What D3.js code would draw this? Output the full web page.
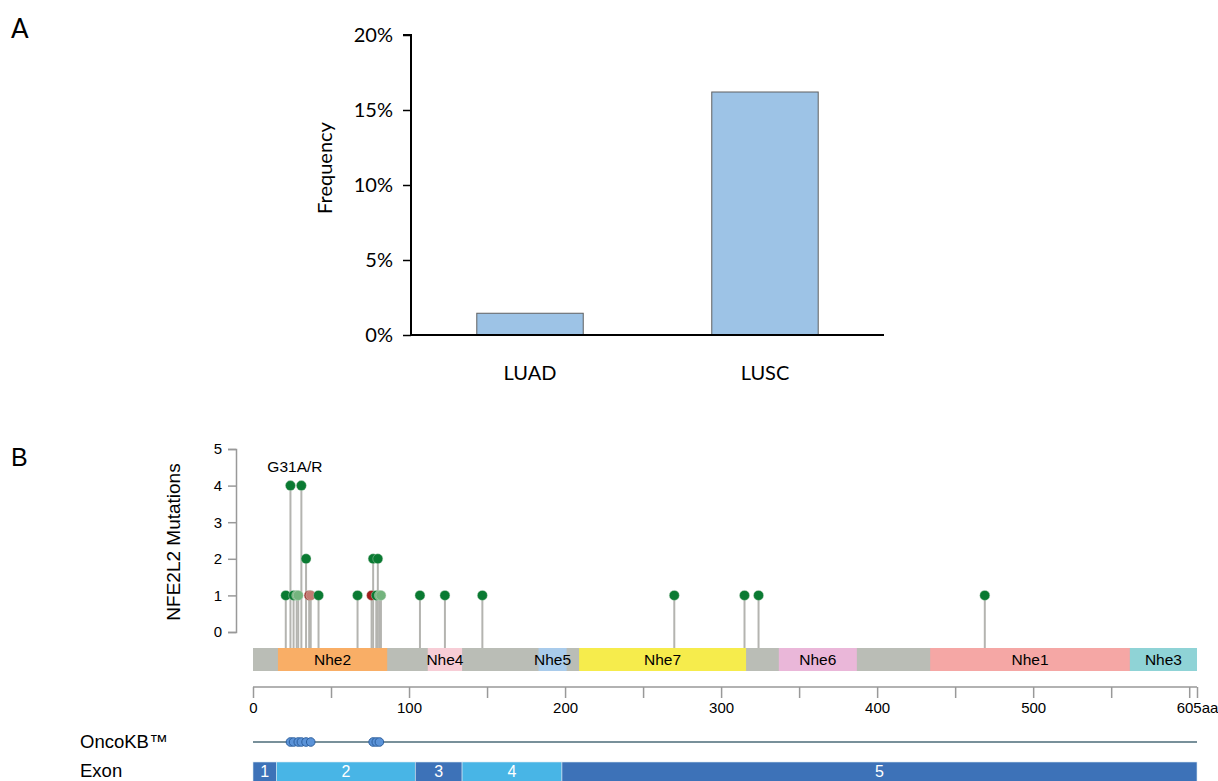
<!DOCTYPE html>
<html>
<head>
<meta charset="utf-8">
<script src="https://cdn.jsdelivr.net/npm/d3@7"></script>
<style>
  body { margin: 0; background: #fff; }
  svg { display: block; }
</style>
</head>
<body>
<div id="chart"></div>
<script>
// Panel A - frecuencia por tipo de tumor
const cohorts = ['LUAD', 'LUSC'];
const frequency = [1.45, 16.2];
const freqTicks = [0, 5, 10, 15, 20];

// Panel B - lollipop NFE2L2
const protLength = 605;
const mutPos   = [21, 24, 26, 28, 29, 31, 34, 36, 37, 42, 67, 76, 77, 79, 80, 81, 82, 107, 123, 147, 270, 315, 324, 469];
const mutCount = [ 1,  4,  1,  1,  1,  4,  2,  1,  1,  1,  1,  1,  2,  1,  2,  1,  1,   1,   1,   1,   1,   1,   1,   1];
const mutType  = ['M','M','M','Mf','Mf','M','M','I','If','M','M','I','M','M','M','Mf','Mf','M','M','M','M','M','M','M'];
const countTicks = [0, 1, 2, 3, 4, 5];

const domainNames = ['Nhe2', 'Nhe4', 'Nhe5', 'Nhe7', 'Nhe6', 'Nhe1', 'Nhe3'];
const domainStart = [16, 112, 183, 209, 337, 434, 562];
const domainEnd   = [86, 134, 201, 316, 387, 562, 605];

const posTicks = [0, 50, 100, 150, 200, 250, 300, 350, 400, 450, 500, 550, 600, 605];
const posLabels = [0, 100, 200, 300, 400, 500, 605];

const oncokbPos = [24, 26, 29, 31, 34, 37, 77, 79, 81];

const exonNames = ['1', '2', '3', '4', '5'];
const exonStart = [0, 15, 104, 134, 198];
const exonEnd   = [15, 104, 134, 198, 605];

const W = 1218, H = 781;
const svg = d3.select('#chart').append('svg').attr('width', W).attr('height', H);

const fontA = 'Lato, "Open Sans", sans-serif';
const fontB = '"Liberation Sans", Arial, Helvetica, sans-serif';

/* ---------- Panel A ---------- */
svg.append('text').attr('x', 11).attr('y', 38).style('font-family', fontA).style('font-size', '26px').text('A');

const xA = d3.scaleBand().domain(cohorts).range([411, 884]).paddingInner(0.547).paddingOuter(0.28);
const yA = d3.scaleLinear().domain([0, 20]).range([335, 35]);

svg.selectAll('rect.barA')
  .data(cohorts)
  .enter().append('rect')
  .attr('class', 'barA')
  .attr('x', d => xA(d))
  .attr('width', xA.bandwidth())
  .attr('y', (d, i) => yA(frequency[i]))
  .attr('height', (d, i) => yA(0) - yA(frequency[i]))
  .attr('fill', '#9dc3e6')
  .attr('stroke', '#606060')
  .attr('stroke-width', 1);

const gyA = svg.append('g').attr('transform', 'translate(411,0)')
  .call(d3.axisLeft(yA).tickValues(freqTicks).tickFormat(d => d + '%').tickSize(8).tickPadding(10));
gyA.select('.domain').attr('stroke', '#000').attr('stroke-width', 2).attr('d', 'M-8,35H0V335');
gyA.selectAll('.tick line').attr('stroke', '#000').attr('stroke-width', 1.5);
gyA.selectAll('.tick text').style('font-family', fontA).style('font-size', '20px').attr('fill', '#000');

svg.append('line').attr('x1', 411).attr('x2', 884).attr('y1', yA(0)).attr('y2', yA(0))
  .attr('stroke', '#000').attr('stroke-width', 2);

svg.selectAll('text.catA')
  .data(cohorts)
  .enter().append('text')
  .attr('class', 'catA')
  .attr('x', d => xA(d) + xA.bandwidth() / 2)
  .attr('y', 380)
  .attr('text-anchor', 'middle')
  .style('font-family', fontA).style('font-size', '20px')
  .text(d => d);

svg.append('text')
  .attr('transform', 'translate(332,168) rotate(-90)')
  .attr('text-anchor', 'middle')
  .style('font-family', fontA).style('font-size', '20px')
  .text('Frequency');

/* ---------- Panel B ---------- */
svg.append('text').attr('x', 11).attr('y', 466).style('font-family', fontB).style('font-size', '25px').text('B');

const xB = d3.scaleLinear().domain([0, protLength]).range([253, 1197]);
const yB = d3.scaleLinear().domain([0, 5]).range([632, 449]);
const barTop = 648, barH = 23;

const gyB = svg.append('g').attr('transform', 'translate(236,0)')
  .call(d3.axisLeft(yB).tickValues(countTicks).tickFormat(d3.format('d')).tickSize(8).tickPadding(6));
gyB.select('.domain').attr('stroke', '#999').attr('stroke-width', 1.5);
gyB.selectAll('.tick line').attr('stroke', '#999').attr('stroke-width', 1.5);
gyB.selectAll('.tick text').style('font-family', fontB).style('font-size', '15px').attr('fill', '#000');

svg.append('text')
  .attr('transform', 'translate(180,542) rotate(-90)')
  .attr('text-anchor', 'middle')
  .style('font-family', fontB).style('font-size', '19px')
  .text('NFE2L2 Mutations');

// tallos
svg.selectAll('line.stem')
  .data(mutPos)
  .enter().append('line')
  .attr('class', 'stem')
  .attr('x1', d => xB(d)).attr('x2', d => xB(d))
  .attr('y1', barTop)
  .attr('y2', (d, i) => yB(mutCount[i]))
  .attr('stroke', '#b4b4b0')
  .attr('stroke-width', 2);

// barra de proteína
svg.append('rect')
  .attr('x', xB(0)).attr('width', xB(protLength) - xB(0))
  .attr('y', barTop).attr('height', barH)
  .attr('fill', '#babdb6');

const domColor = d3.scaleOrdinal()
  .domain(domainNames)
  .range(['#f9ae66', '#f7cdd6', '#a9cbeb', '#f6ec4c', '#eab7d9', '#f5a7a5', '#8fd3d6']);

svg.selectAll('rect.dom')
  .data(domainNames)
  .enter().append('rect')
  .attr('class', 'dom')
  .attr('x', (d, i) => xB(domainStart[i]))
  .attr('width', (d, i) => xB(domainEnd[i]) - xB(domainStart[i]))
  .attr('y', barTop).attr('height', barH)
  .attr('fill', d => domColor(d));

svg.selectAll('text.dom')
  .data(domainNames)
  .enter().append('text')
  .attr('class', 'dom')
  .attr('x', (d, i) => (xB(domainStart[i]) + xB(domainEnd[i])) / 2)
  .attr('y', barTop + 17)
  .attr('text-anchor', 'middle')
  .style('font-family', fontB).style('font-size', '15.5px')
  .text(d => d);

// cabezas
const mutColor = d3.scaleOrdinal()
  .domain(['M', 'Mf', 'I', 'If'])
  .range(['#0a7a32', '#74b47e', '#a01d1d', '#c47a72']);

svg.selectAll('circle.head')
  .data(mutPos)
  .enter().append('circle')
  .attr('class', 'head')
  .attr('cx', d => xB(d))
  .attr('cy', (d, i) => yB(mutCount[i]))
  .attr('r', 5)
  .attr('fill', (d, i) => mutColor(mutType[i]))
  .attr('stroke', '#c9d9c9')
  .attr('stroke-width', 0.4);

svg.append('text')
  .attr('x', (xB(24) + xB(31)) / 2 - 1)
  .attr('y', 472)
  .attr('text-anchor', 'middle')
  .style('font-family', fontB).style('font-size', '15.5px')
  .text('G31A/R');

// eje de posiciones
const gxB = svg.append('g').attr('transform', 'translate(0,687)')
  .call(d3.axisBottom(xB).tickValues(posTicks).tickSize(11).tickPadding(4)
    .tickFormat(d => posLabels.includes(d) ? (d === protLength ? d + 'aa' : d) : ''));
gxB.select('.domain').attr('stroke', '#999').attr('stroke-width', 1.5).attr('d', `M${xB(0)},0H${xB(protLength)}`);
gxB.selectAll('.tick line').attr('stroke', '#999').attr('stroke-width', 1.5);
gxB.selectAll('.tick text').style('font-family', fontB).style('font-size', '15px').attr('fill', '#000');

// OncoKB
svg.append('text').attr('x', 80).attr('y', 748).style('font-family', fontB).style('font-size', '18.5px').text('OncoKB™');
svg.append('line').attr('x1', xB(0)).attr('x2', xB(protLength)).attr('y1', 742).attr('y2', 742)
  .attr('stroke', '#4b6b78').attr('stroke-width', 1.5);
svg.selectAll('circle.okb')
  .data(oncokbPos)
  .enter().append('circle')
  .attr('class', 'okb')
  .attr('cx', d => xB(d)).attr('cy', 742).attr('r', 4.3)
  .attr('fill', '#5b93d8')
  .attr('stroke', '#2c5f9e')
  .attr('stroke-width', 1);

// Exones
svg.append('text').attr('x', 80).attr('y', 777).style('font-family', fontB).style('font-size', '18.5px').text('Exon');
const exonColor = ['#3d72b8', '#48b5e6', '#3d72b8', '#48b5e6', '#3d72b8'];
svg.selectAll('rect.exon')
  .data(exonNames)
  .enter().append('rect')
  .attr('class', 'exon')
  .attr('x', (d, i) => xB(exonStart[i]))
  .attr('width', (d, i) => xB(exonEnd[i]) - xB(exonStart[i]))
  .attr('y', 762).attr('height', 24)
  .attr('fill', (d, i) => exonColor[i])
  .attr('stroke', '#d8e6f2').attr('stroke-width', 0.6);
svg.selectAll('text.exon')
  .data(exonNames)
  .enter().append('text')
  .attr('class', 'exon')
  .attr('x', (d, i) => (xB(exonStart[i]) + xB(exonEnd[i])) / 2)
  .attr('y', 777)
  .attr('text-anchor', 'middle')
  .attr('fill', '#fff')
  .style('font-family', fontB).style('font-size', '16px')
  .text(d => d);
</script>
</body>
</html>
